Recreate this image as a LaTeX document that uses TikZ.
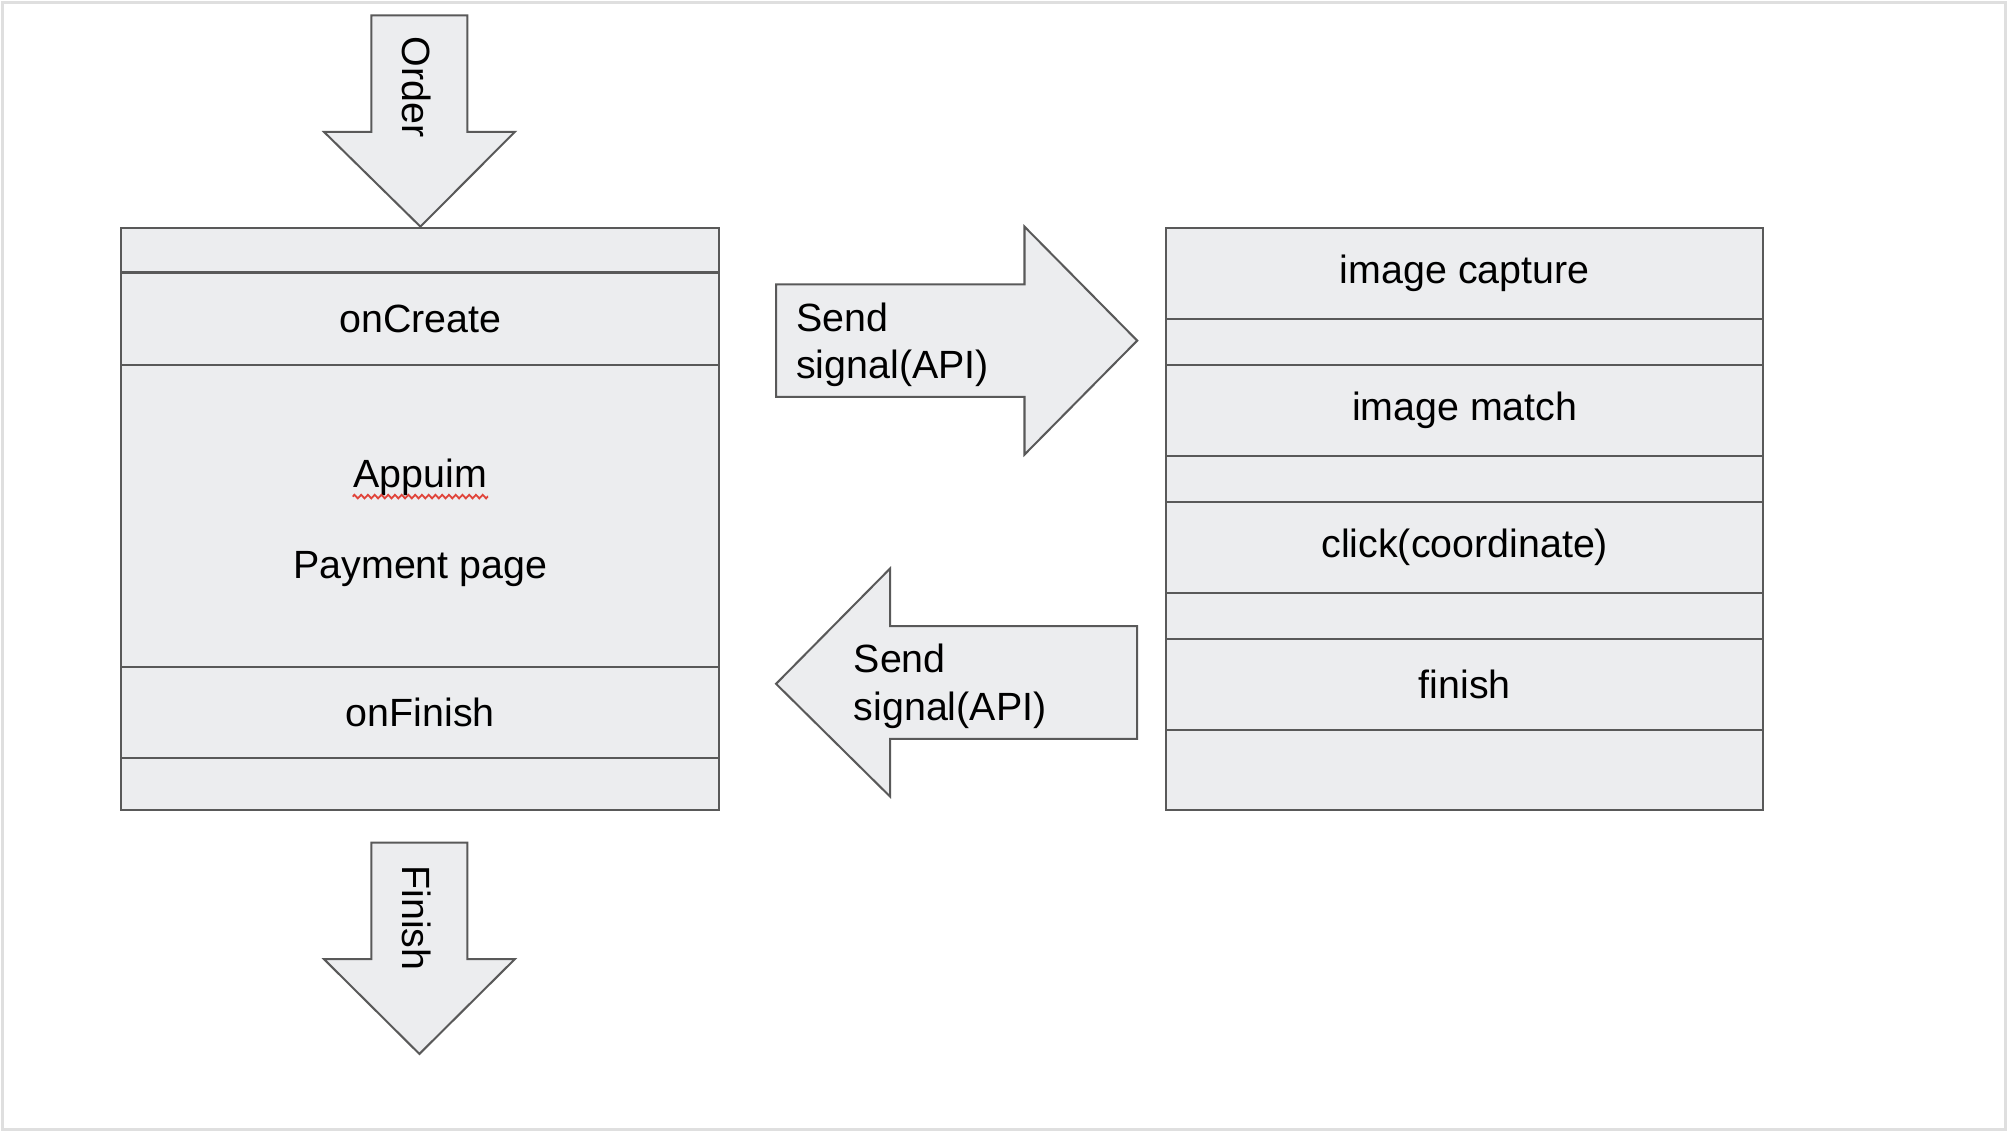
\documentclass[tikz,border=0pt]{standalone}
\usepackage{fontspec}
\setmainfont{Liberation Sans}
\usetikzlibrary{matrix, decorations.pathmorphing}

\definecolor{boxfill}{HTML}{ECEDEF}
\definecolor{boxline}{HTML}{595959}
\definecolor{spellred}{HTML}{E0443A}

\begin{document}
\begin{tikzpicture}[font=\fontsize{8.75}{10.5}\selectfont,
  cell/.style={draw=boxline, fill=boxfill, line width=0.45pt, minimum width=4.67cm, inner sep=0pt, outer sep=0pt},
  blk/.style={draw=boxline, fill=boxfill, line width=0.45pt, line join=miter},
  lbl/.style={inner sep=0pt, align=left}]
\useasboundingbox (0,0) rectangle (15.68,8.84);
\draw[gray!25, line width=0.8pt] (0.02,0.02) rectangle (15.66,8.82);

\matrix (pay) [matrix of nodes, nodes={cell}, nodes in empty cells, row sep=-0.45pt, inner sep=0pt, outer sep=0pt, anchor=north west] at (0.94,7.07) {
|[minimum height=3.5mm]| \\
|[minimum height=7.2mm]| onCreate \\
|[minimum height=23.6mm]| \\
|[minimum height=7.1mm]| onFinish \\
|[minimum height=4.1mm]| \\
};
\node[lbl, anchor=base] (appuim) at ([yshift=0.22cm]pay-3-1.center) {Appuim};
\node[lbl, anchor=base] (page) at ([yshift=-0.49cm]pay-3-1.center) {Payment page};
\draw[spellred, line width=0.4pt, decorate, decoration={zigzag, amplitude=0.4pt, segment length=1.5pt}] ([yshift=-0.07cm]appuim.base west) -- ([yshift=-0.07cm]appuim.base east);

\matrix (matcher) [matrix of nodes, nodes={cell, minimum width=4.66cm}, nodes in empty cells, row sep=-0.45pt, inner sep=0pt, outer sep=0pt, anchor=north west] at (9.10,7.07) {
|[minimum height=7.1mm]| image capture \\
|[minimum height=3.6mm]| \\
|[minimum height=7.1mm]| image match \\
|[minimum height=3.6mm]| \\
|[minimum height=7.1mm]| click(coordinate) \\
|[minimum height=3.6mm]| \\
|[minimum height=7.1mm]| finish \\
|[minimum height=6.3mm]| \\
};

\draw[blk] (2.90,8.72) -- (3.65,8.72) -- (3.65,7.81) -- (4.02,7.81) -- (pay.north) -- (2.53,7.81) -- (2.90,7.81) -- cycle;
\node[lbl, rotate=-90, anchor=west] (order) at (3.255,8.56) {Order};

\draw[blk] (2.90,2.26) -- (3.65,2.26) -- (3.65,1.35) -- (4.02,1.35) -- (3.275,0.61) -- (2.53,1.35) -- (2.90,1.35) -- cycle;
\node[lbl, rotate=-90, anchor=west] (finish) at (3.255,2.09) {Finish};

\draw[blk] (6.06,6.62) -- (8.00,6.62) -- (8.00,7.07) -- (8.88,6.18) -- (8.00,5.29) -- (8.00,5.74) -- (6.06,5.74) -- cycle;
\node[lbl, anchor=west] (sendr) at (6.21,6.15) {Send\\signal(API)};

\draw[blk] (6.06,3.50) -- (6.95,4.40) -- (6.95,3.95) -- (8.88,3.95) -- (8.88,3.07) -- (6.95,3.07) -- (6.95,2.62) -- cycle;
\node[lbl, anchor=west] (sendl) at (6.66,3.48) {Send\\signal(API)};
\end{tikzpicture}
\end{document}
